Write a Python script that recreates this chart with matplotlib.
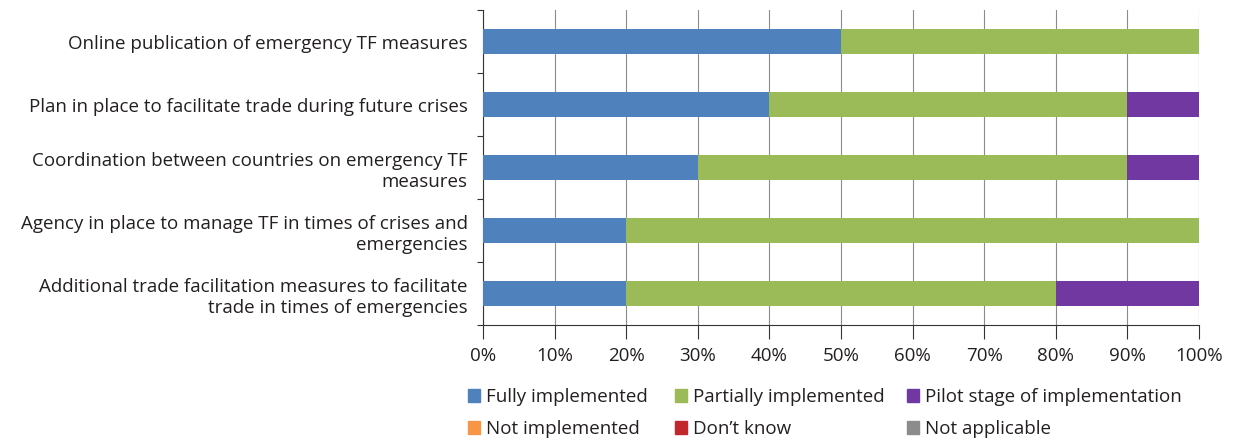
import matplotlib.pyplot as plt
import numpy as np
from matplotlib.patches import Patch

plt.rcParams['font.family'] = ['Open Sans', 'DejaVu Sans']

categories = [
    "Online publication of emergency TF measures",
    "Plan in place to facilitate trade during future crises",
    "Coordination between countries on emergency TF\nmeasures",
    "Agency in place to manage TF in times of crises and\nemergencies",
    "Additional trade facilitation measures to facilitate\ntrade in times of emergencies",
]
series = ["Fully implemented", "Partially implemented", "Pilot stage of implementation",
          "Not implemented", "Don\u2019t know", "Not applicable"]
fully = [50, 40, 30, 20, 20]
partially = [50, 50, 60, 80, 60]
pilot = [0, 10, 10, 0, 20]
not_impl = [0, 0, 0, 0, 0]
dont_know = [0, 0, 0, 0, 0]
not_appl = [0, 0, 0, 0, 0]
colors = ["#4F81BD", "#9BBB59", "#7038A0", "#F79646", "#C0282D", "#8C8C8C"]

fig = plt.figure(figsize=(12.33, 4.38), dpi=100)
ax = fig.add_axes([0.3917, 0.258, 0.5807, 0.719])

y = np.arange(len(categories))
left = np.zeros(len(categories))
for vals, c in zip([fully, partially, pilot, not_impl, dont_know, not_appl], colors):
    ax.barh(y, vals, left=left, height=0.4, color=c, zorder=3)
    left += np.array(vals)

fs = 13.5
ax.set_xlim(0, 100)
ax.set_ylim(len(categories) - 0.5, -0.5)
ax.set_xticks(np.arange(0, 101, 10))
ax.set_xticklabels([f"{v}%" for v in range(0, 101, 10)], fontsize=fs, color="#231F20")
ax.xaxis.grid(True, color="#8C8C8C", linewidth=0.8, zorder=0)
ax.tick_params(axis='x', length=10, width=0.8, color="#333333", pad=6)

ax.set_yticks(y)
ax.set_yticklabels(categories, fontsize=fs, color="#231F20", linespacing=1.25)
ax.tick_params(axis='y', length=0, pad=11)
ax.set_yticks(np.arange(-0.5, len(categories)), minor=True)
ax.tick_params(axis='y', which='minor', length=4, width=0.8, color="#333333")
for lbl in ax.get_yticklabels():
    lbl.set_horizontalalignment('right')
    lbl.set_multialignment('right')

for s in ['top', 'right']:
    ax.spines[s].set_visible(False)
ax.spines['left'].set_color("#333333")
ax.spines['bottom'].set_color("#333333")

# legend: three columns placed like the original (row-wise order)
handles = [Patch(color=c, label=s) for s, c in zip(series, colors)]
col_x = [0.366, 0.5337, 0.7218]
for k, x0 in enumerate(col_x):
    idx = [k, k + 3]
    fig.legend([handles[i] for i in idx], [series[i] for i in idx],
               loc='upper left', bbox_to_anchor=(x0, 0.152), frameon=False,
               fontsize=fs, handlelength=0.65, handleheight=0.7, handletextpad=0.3,
               labelspacing=0.75, labelcolor="#231F20")

fig.savefig("out.png", dpi=100)
